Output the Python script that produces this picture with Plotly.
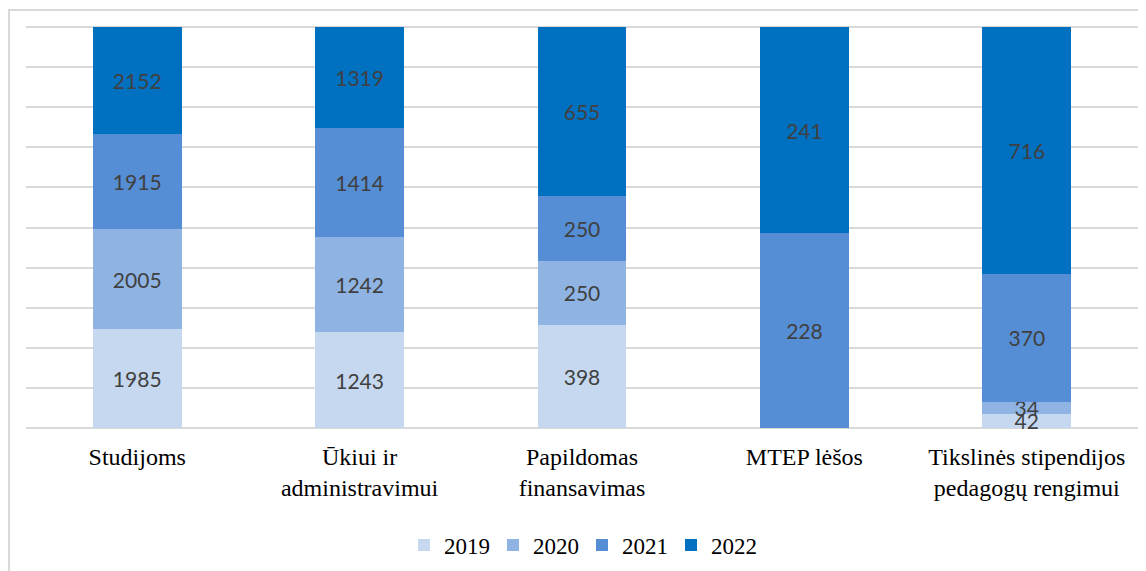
import plotly.graph_objects as go

categories = ["Studijoms", "Ūkiui ir<br>administravimui", "Papildomas<br>finansavimas",
              "MTEP lėšos", "Tikslinės stipendijos<br>pedagogų rengimui"]
years = ["2019", "2020", "2021", "2022"]
v2019 = [1985, 1243, 398, 0, 42]
v2020 = [2005, 1242, 250, 0, 34]
v2021 = [1915, 1414, 250, 228, 370]
v2022 = [2152, 1319, 655, 241, 716]
series = [v2019, v2020, v2021, v2022]
colors = ["#c5d8ef", "#8fb4e3", "#558ed5", "#0070c0"]

fig = go.Figure()
for name, vals, col in zip(years, series, colors):
    fig.add_trace(go.Bar(
        x=categories, y=vals, name=name,
        marker=dict(color=col, line=dict(width=0)),
        text=[str(v) if v else "" for v in vals],
        textposition="inside", insidetextanchor="middle", textangle=0,
        textfont=dict(family="Lato", size=21, color="#404040"),
        constraintext="none", cliponaxis=False,
    ))

# page has an 8px body margin; figure origin is at page (8, 8)
OFF = 8
W, H = 1138, 563
L, R, T, B = 26 - OFF, 8, 27 - OFF, 143
pw, ph = W - L - R, H - T - B

def px_x(p):
    return (p - OFF - L) / pw

def px_y(p):
    return (H - B - (p - OFF)) / ph

fig.update_layout(
    width=W, height=H,
    margin=dict(l=L, r=R, t=T, b=B, autoexpand=False),
    barmode="stack", barnorm="percent", bargap=0.6,
    plot_bgcolor="white", paper_bgcolor="white",
    uniformtext=dict(minsize=21, mode="show"),
    showlegend=True,
    legend=dict(orientation="h", x=0.5, xanchor="center", y=px_y(545), yanchor="middle",
                font=dict(family="Liberation Serif", size=23, color="black"),
                traceorder="normal", itemwidth=30, entrywidth=44, entrywidthmode="pixels"),
    xaxis=dict(showgrid=False, showline=False, ticks="", ticklabelstandoff=12,
               tickfont=dict(family="Liberation Serif", size=24, color="black")),
    yaxis=dict(range=[0, 100], dtick=10, showticklabels=False, showgrid=True,
               gridcolor="#d9d9d9", gridwidth=2, zeroline=True, zerolinecolor="#d9d9d9",
               zerolinewidth=2, showline=False),
    shapes=[dict(type="rect", xref="paper", yref="paper",
                 x0=px_x(9), x1=px_x(1160), y0=px_y(590), y1=px_y(10),
                 line=dict(color="#d9d9d9", width=2), fillcolor="rgba(0,0,0,0)", layer="below"),
            dict(type="line", xref="paper", yref="paper", x0=0, x1=1, y0=1, y1=1,
                 line=dict(color="#d9d9d9", width=2), layer="below")],
)

fig.write_html("out.html")
